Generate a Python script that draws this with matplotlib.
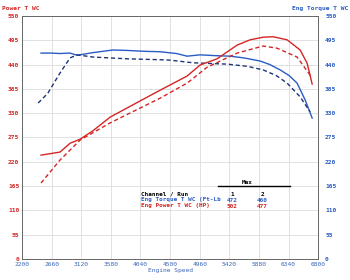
import matplotlib
matplotlib.use("Agg")
import matplotlib.pyplot as plt

rpm_t1 = [2495, 2650, 2790, 2946, 3055, 3300, 3614, 3832, 4100, 4345, 4600, 4764, 4966, 5230, 5432, 5650, 5899, 6050, 6209, 6350, 6473, 6598, 6707]
tq1 = [466, 466, 465, 466, 461, 467, 473, 472, 470, 469, 465, 459, 462, 460, 459, 455, 448, 440, 428, 415, 398, 360, 319]

rpm_t2 = [2450, 2600, 2790, 2946, 3055, 3303, 3832, 4345, 4500, 4857, 5386, 5700, 5945, 6150, 6318, 6520, 6675]
tq2 = [353, 375, 421, 455, 462, 457, 453, 451, 450, 444, 441, 436, 428, 415, 398, 367, 333]

rpm_p1 = [2495, 2790, 2946, 3101, 3300, 3568, 4000, 4345, 4764, 4966, 5230, 5541, 5743, 5950, 6100, 6318, 6520, 6629, 6707]
p1 = [235, 242, 262, 271, 290, 321, 355, 382, 414, 439, 453, 484, 496, 502, 503, 496, 473, 443, 396]

rpm_p2 = [2495, 2790, 3101, 3568, 4345, 4764, 5075, 5541, 5945, 6163, 6473, 6675, 6707]
p2 = [172, 224, 269, 308, 364, 398, 434, 466, 482, 477, 457, 416, 412]

xticks = [2200, 2660, 3120, 3580, 4040, 4500, 4960, 5420, 5880, 6340, 6800]
yticks = [0, 55, 110, 165, 220, 275, 330, 385, 440, 495, 550]

RED = '#d42525'
BLUE = '#2a5cc4'
NAVY = '#1f3478'
FONT = 'DejaVu Sans Mono'

fig = plt.figure(figsize=(3.5, 2.8), dpi=100)
ax = fig.add_axes([0.063, 0.075, 0.846, 0.868])
ax.set_xlim(2200, 6800)
ax.set_ylim(0, 550)
ax.set_xticks(xticks)
ax.set_yticks(yticks)
ax.grid(True, color='#dcdcdc', linewidth=0.6)
ax.set_axisbelow(True)

ax.plot(rpm_t1, tq1, color=BLUE, lw=1.0)
ax.plot(rpm_t2, tq2, color=NAVY, lw=1.0, ls=(0, (3, 2)))
ax.plot(rpm_p1, p1, color=RED, lw=1.0)
ax.plot(rpm_p2, p2, color=RED, lw=1.0, ls=(0, (3, 2)))

for s in ax.spines.values():
    s.set_color('#666666')
    s.set_linewidth(0.7)

ax.tick_params(axis='both', length=0, pad=2)
ax.set_xticklabels([str(v) for v in xticks], fontsize=4.5, color='#3a66b8', family=FONT)
ax.set_yticklabels([str(v) for v in yticks], fontsize=4.5, color=RED, family=FONT, fontweight='bold')

ax2 = ax.twinx()
ax2.set_ylim(0, 550)
ax2.set_yticks(yticks)
ax2.set_yticklabels([str(v) for v in yticks], fontsize=4.5, color=BLUE, family=FONT, fontweight='bold')
ax2.tick_params(axis='y', length=0, pad=5)
for s in ax2.spines.values():
    s.set_visible(False)

ax.set_xlabel('Engine Speed', fontsize=4.5, color='#3a66b8', family=FONT, labelpad=1)

fig.text(0.006, 0.968, 'Power T WC', fontsize=4.5, color=RED, family=FONT, fontweight='bold', va='center')
fig.text(0.995, 0.968, 'Eng Torque T WC', fontsize=4.5, color=BLUE, family=FONT, fontweight='bold', va='center', ha='right')

# Summary table
tx = ax.transAxes
def T(x, y, s, color='black', ha='left'):
    fig.text(x / 350, 1 - y / 280, s, fontsize=4.3, color=color, family=FONT, fontweight='bold', ha=ha, va='center')

T(247, 182, 'Max', ha='center')
fig.add_artist(plt.Line2D([218 / 350, 290 / 350], [1 - 186 / 280, 1 - 186 / 280], color='black', lw=1.0))
T(141, 194, 'Channel / Run')
T(232, 194, '1', ha='center')
T(262, 194, '2', ha='center')
T(141, 200, 'Eng Torque T WC (Ft-Lb', color=BLUE)
T(232, 200, '472', color=BLUE, ha='center')
T(262, 200, '460', color=BLUE, ha='center')
T(141, 206, 'Eng Power T WC (HP)', color=RED)
T(232, 206, '502', color=RED, ha='center')
T(262, 206, '477', color=RED, ha='center')

fig.savefig('out.png', dpi=100)
